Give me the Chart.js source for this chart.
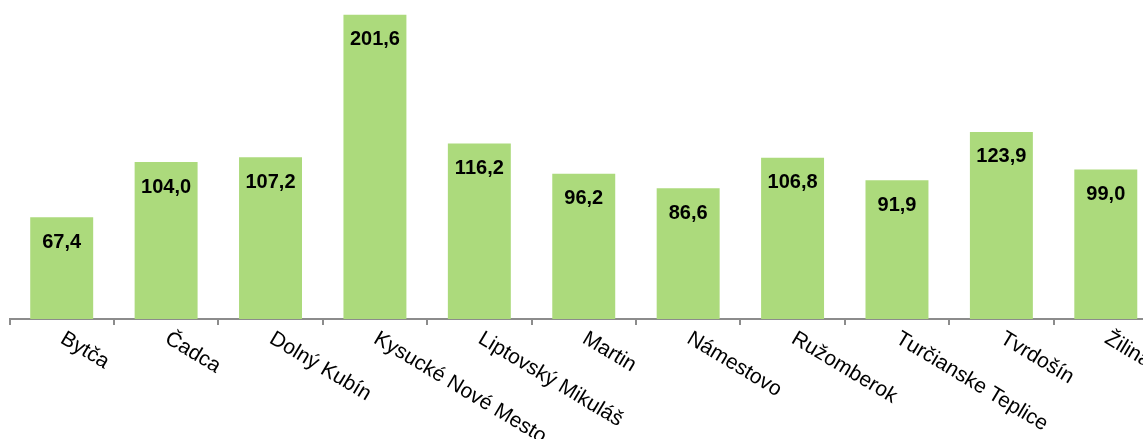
<!DOCTYPE html>
<html>
<head>
<meta charset="utf-8">
<script src="https://cdn.jsdelivr.net/npm/chart.js@4"></script>
<style>
    html, body { margin: 0; padding: 0; background: #fff; overflow: hidden; }
    #wrap { width: 1160px; height: 439px; }
</style>
</head>
<body>
<div id="wrap"><canvas id="graf"></canvas></div>
<script>
// Okresy a hodnoty
const okresy = ['Bytča', 'Čadca', 'Dolný Kubín', 'Kysucké Nové Mesto', 'Liptovský Mikuláš',
    'Martin', 'Námestovo', 'Ružomberok', 'Turčianske Teplice', 'Tvrdošín', 'Žilina'];
const hodnoty = [67.4, 104.0, 107.2, 201.6, 116.2, 96.2, 86.6, 106.8, 91.9, 123.9, 99.0];

const formatCislo = v => v.toFixed(1).replace('.', ',');

// Hodnoty vo vnútri stĺpcov
const hodnotyPlugin = {
    id: 'hodnoty',
    afterDatasetsDraw(chart) {
        const ctx = chart.ctx;
        const meta = chart.getDatasetMeta(0);
        ctx.save();
        ctx.font = 'bold 20px "Liberation Sans", Arial, sans-serif';
        ctx.fillStyle = '#000';
        ctx.textAlign = 'center';
        ctx.textBaseline = 'middle';
        meta.data.forEach((bar, i) => {
            ctx.fillText(formatCislo(hodnoty[i]), bar.x, bar.y + 25);
        });
        ctx.restore();
    }
};

// Šikmé popisy osi x (text ide dole doprava)
const popisyPlugin = {
    id: 'popisy',
    afterDraw(chart) {
        const ctx = chart.ctx;
        const x = chart.scales.x;
        ctx.save();
        ctx.font = '21px "Liberation Sans", Arial, sans-serif';
        ctx.fillStyle = '#000';
        ctx.textAlign = 'left';
        ctx.textBaseline = 'top';
        okresy.forEach((nazov, i) => {
            ctx.save();
            ctx.translate(x.getPixelForTick(i) + 6, x.bottom - 111);
            ctx.rotate(31 * Math.PI / 180);
            ctx.fillText(nazov, 0, 0);
            ctx.restore();
        });
        ctx.restore();
    }
};

new Chart(document.getElementById('graf'), {
    type: 'bar',
    data: {
        labels: okresy,
        datasets: [{
            data: hodnoty,
            backgroundColor: '#acda7c',
            barPercentage: 1,
            categoryPercentage: 0.603
        }]
    },
    options: {
        responsive: true,
        maintainAspectRatio: false,
        animation: false,
        layout: { padding: { left: 9.5, right: 2, top: 2, bottom: 0 } },
        scales: {
            x: {
                ticks: { display: false },
                grid: {
                    offset: true,
                    drawOnChartArea: false,
                    drawTicks: true,
                    tickLength: 6,
                    color: '#8c8c8c',
                    lineWidth: 2
                },
                border: { color: '#8c8c8c', width: 2 },
                afterFit(scale) { scale.height = 120; }
            },
            y: {
                display: false,
                min: 0,
                max: 210
            }
        },
        plugins: {
            legend: { display: false },
            tooltip: { enabled: false }
        }
    },
    plugins: [hodnotyPlugin, popisyPlugin]
});
</script>
</body>
</html>
